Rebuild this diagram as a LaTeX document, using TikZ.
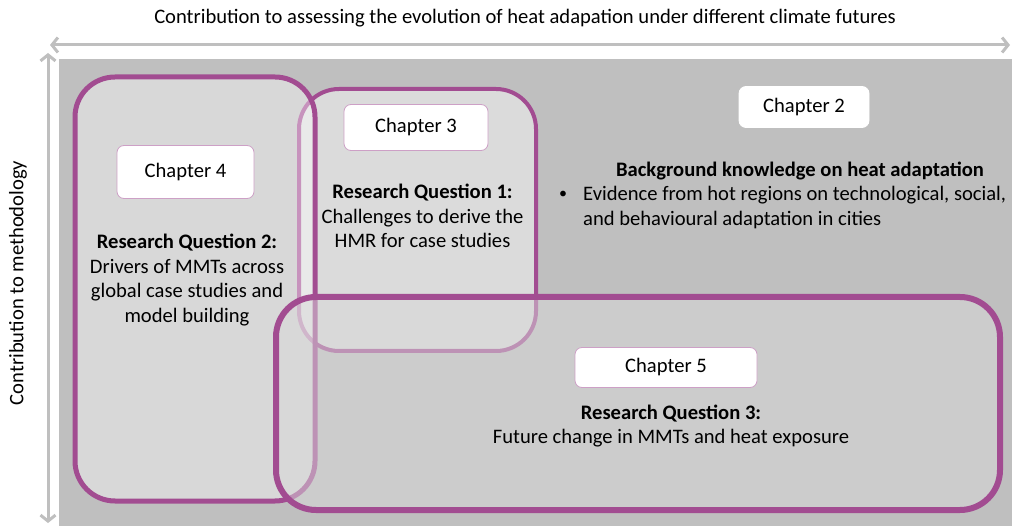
\documentclass[tikz,border=0pt]{standalone}
\usepackage{fontspec}
\setmainfont{Carlito}
\usetikzlibrary{arrows.meta,positioning}
\definecolor{rqpurple}{RGB}{162,76,145}
\definecolor{lblpurple}{RGB}{205,160,198}
\definecolor{axisgray}{RGB}{191,191,191}
\definecolor{panelgray}{RGB}{191,191,191}
\definecolor{rqgray}{RGB}{217,217,217}

\begin{document}
\begin{tikzpicture}[x=1pt, y=-1pt,
    every node/.style={font=\fontsize{20.6}{24.6}\selectfont, inner sep=0pt},
    rqbox/.style={rectangle, draw=rqpurple, rounded corners=40pt},
    chapbox/.style={rectangle, draw=lblpurple, line width=0.8pt, fill=white, rounded corners=7pt},
    axisline/.style={draw=axisgray, line width=3pt, {Straight Barb[length=6pt,width=15pt]}-{Straight Barb[length=6pt,width=15pt]}}
]
\useasboundingbox (0,0) rectangle (1012,526);

% Axes
\node (title) at (525,18) {Contribution to assessing the evolution of heat adapation under different climate futures};
\node[rotate=90] (ylabel) at (18,283) {Contribution to methodology};
\coordinate (xleft) at (50,45);
\coordinate (xright) at (1010,45);
\coordinate (ytop) at (48,53);
\coordinate (ybottom) at (48,523);
\draw[axisline] (xleft) -- (xright);
\draw[axisline] (ytop) -- (ybottom);

% Panel
\fill[panelgray] (59,59) rectangle (1012,526);

% Research question boxes
\node[rqbox, line width=4pt, fill=white, fill opacity=0.45, minimum width=237pt, minimum height=262pt] (rq_one) at (417.5,220) {};
\node[rqbox, line width=5pt, fill=white, fill opacity=0.4, minimum width=240pt, minimum height=424pt] (rq_two) at (195,289) {};
\node[rqbox, line width=6pt, fill=rqgray, fill opacity=0.5, minimum width=724pt, minimum height=213pt] (rq_three) at (638,403.5) {};

% Chapter 4
\node[chapbox, minimum width=137pt, minimum height=53pt] (ch4) at (185.5,172) {Chapter 4};
\node[align=center] (rq_two_text) at (187,280) {\textbf{Research Question 2:}\\
    Drivers of MMTs across\\
    global case studies and\\
    model building};

% Chapter 3
\node[chapbox, minimum width=144pt, minimum height=46pt] (ch3) at (416,127.5) {Chapter 3};
\node[align=center] (rq_one_text) at (422.5,216) {\textbf{Research Question 1:}\\
    Challenges to derive the\\
    HMR for case studies};

% Chapter 2
\node[chapbox, draw=white, minimum width=130pt, minimum height=41pt] (ch2) at (804,107) {Chapter 2};
\node (bg_head) at (800,171) {\textbf{Background knowledge on heat adaptation}};
\node[font=\fontsize{16}{16}\selectfont] (bullet) at (563,195) {•};
\node[align=left, anchor=west] (bg_text) at (583,207.5) {Evidence from hot regions on technological, social,\\
    and behavioural adaptation in cities};

% Chapter 5
\node[chapbox, minimum width=182pt, minimum height=40pt] (ch5) at (666,367.5) {Chapter 5};
\node[align=center] (rq_three_text) at (671,426) {\textbf{Research Question 3:}\\
    Future change in MMTs and heat exposure};

\end{tikzpicture}
\end{document}
